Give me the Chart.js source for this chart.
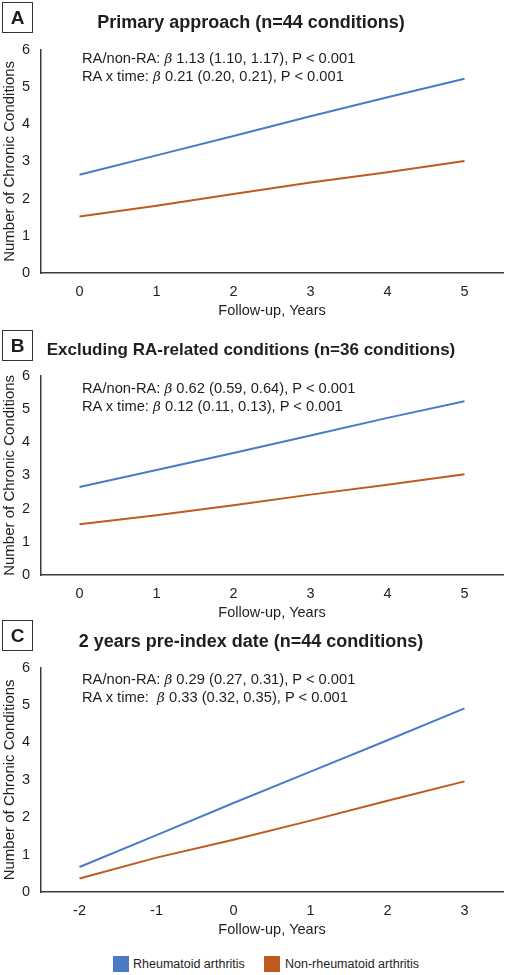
<!DOCTYPE html>
<html>
<head>
<meta charset="utf-8">
<script src="https://cdn.jsdelivr.net/npm/chart.js@4.4.0/dist/chart.umd.min.js"></script>
<style>
  html, body { margin: 0; padding: 0; background: #fff; }
  body { width: 506px; height: 975px; position: relative; overflow: hidden;
         font-family: "Liberation Sans", Arial, sans-serif; color: #1e1e1e; }
  .panel { position: absolute; left: 0; width: 506px; }
  .tag { position: absolute; left: 2px; width: 29px; height: 29px; border: 1.5px solid #333;
         font-weight: bold; font-size: 19px; line-height: 29px; text-align: center; }
  .title { position: absolute; left: 0; width: 502px; text-align: center; font-weight: bold;
           font-size: 18px; line-height: 20px; }
  .note { position: absolute; left: 82px; font-size: 14.7px; line-height: 18px; white-space: pre; }
  .note i { font-family: "DejaVu Serif", serif; font-size: 13.5px; }
  .legend { position: absolute; top: 956px; font-size: 12.5px; line-height: 17px; white-space: nowrap; }
  .legend span.box { position: absolute; top: 0; width: 16px; height: 16px; }
</style>
</head>
<body>
<canvas id="chartA" class="panel" style="top:30px"></canvas>
<canvas id="chartB" class="panel" style="top:356px"></canvas>
<canvas id="chartC" class="panel" style="top:648px"></canvas>

<!-- panel labels and titles -->
<div class="tag" style="top:2px">A</div>
<div class="title" style="top:12px">Primary approach (n=44 conditions)</div>
<div class="tag" style="top:330px">B</div>
<div class="title" style="top:340px; font-size:17px">Excluding RA-related conditions (n=36 conditions)</div>
<div class="tag" style="top:620px">C</div>
<div class="title" style="top:631px">2 years pre-index date (n=44 conditions)</div>

<div class="note" style="top:49px">RA/non-RA: <i>β</i> 1.13 (1.10, 1.17), P &lt; 0.001
RA x time: <i>β</i> 0.21 (0.20, 0.21), P &lt; 0.001</div>
<div class="note" style="top:379px">RA/non-RA: <i>β</i> 0.62 (0.59, 0.64), P &lt; 0.001
RA x time: <i>β</i> 0.12 (0.11, 0.13), P &lt; 0.001</div>
<div class="note" style="top:670px">RA/non-RA: <i>β</i> 0.29 (0.27, 0.31), P &lt; 0.001
RA x time:  <i>β</i> 0.33 (0.32, 0.35), P &lt; 0.001</div>

<div class="legend" style="left:113px"><span class="box" style="background:#4a7bc6"></span><span style="padding-left:20px">Rheumatoid arthritis</span></div>
<div class="legend" style="left:264px"><span class="box" style="background:#c05a1e"></span><span style="padding-left:21px">Non-rheumatoid arthritis</span></div>

<script>
// follow-up years (x categories)
const yearsFollowUp = ['0', '1', '2', '3', '4', '5'];
const yearsPreIndex = ['-2', '-1', '0', '1', '2', '3'];

// mean number of chronic conditions
const raPrimary = [2.64, 3.16, 3.68, 4.21, 4.72, 5.22];
const nonRaPrimary = [1.52, 1.81, 2.12, 2.43, 2.71, 3.01];
const raExcluding = [2.65, 3.16, 3.67, 4.20, 4.73, 5.23];
const nonRaExcluding = [1.53, 1.80, 2.10, 2.42, 2.72, 3.03];
const raPreIndex = [0.67, 1.52, 2.38, 3.22, 4.06, 4.91];
const nonRaPreIndex = [0.36, 0.92, 1.40, 1.91, 2.44, 2.96];

const yTicks = [0, 1, 2, 3, 4, 5, 6];

const RA_COLOR = '#4a7bc6';
const NON_RA_COLOR = '#c05a1e';
const AXIS_COLOR = '#3a3a3a';
const FONT = "'Liberation Sans', Arial, sans-serif";

Chart.defaults.font.family = FONT;
Chart.defaults.color = '#1e1e1e';

const makeChart = (id, height, labels, ra, nonRa) => {
  const canvas = document.getElementById(id);
  canvas.width = 506;
  canvas.height = height;
  canvas.style.width = '506px';
  canvas.style.height = height + 'px';

  return new Chart(canvas.getContext('2d'), {
    type: 'line',
    data: {
      labels,
      datasets: [
        { label: 'Rheumatoid arthritis', data: ra, borderColor: RA_COLOR, backgroundColor: RA_COLOR,
          borderWidth: 2, pointRadius: 0, tension: 0 },
        { label: 'Non-rheumatoid arthritis', data: nonRa, borderColor: NON_RA_COLOR, backgroundColor: NON_RA_COLOR,
          borderWidth: 2, pointRadius: 0, tension: 0 }
      ]
    },
    options: {
      responsive: false,
      animation: false,
      devicePixelRatio: 1,
      layout: { padding: { top: 0, right: 3, left: 0, bottom: 0 } },
      plugins: { legend: { display: false }, tooltip: { enabled: false } },
      scales: {
        x: {
          type: 'category',
          offset: true,
          grid: { display: false, drawTicks: false },
          border: { display: true, color: AXIS_COLOR, width: 1.5 },
          ticks: { padding: 10, font: { size: 14.5 }, maxRotation: 0 },
          title: { display: true, text: 'Follow-up, Years', font: { size: 14.5 }, padding: { top: 0, bottom: 0 } },
          afterFit: (scale) => { scale.height = 47; }
        },
        y: {
          min: 0,
          max: 6,
          afterBuildTicks: (scale) => { scale.ticks = yTicks.map(v => ({ value: v })); },
          grid: { display: false, drawTicks: false },
          border: { display: true, color: AXIS_COLOR, width: 1.5 },
          ticks: { padding: 11, font: { size: 14.5 } },
          title: { display: true, text: 'Number of Chronic Conditions', font: { size: 15 }, padding: { top: 1, bottom: 0 } },
          afterFit: (scale) => { scale.width = 41; }
        }
      }
    }
  });
};

makeChart('chartA', 290, yearsFollowUp, raPrimary, nonRaPrimary);
makeChart('chartB', 266, yearsFollowUp, raExcluding, nonRaExcluding);
makeChart('chartC', 291, yearsPreIndex, raPreIndex, nonRaPreIndex);
</script>
</body>
</html>
